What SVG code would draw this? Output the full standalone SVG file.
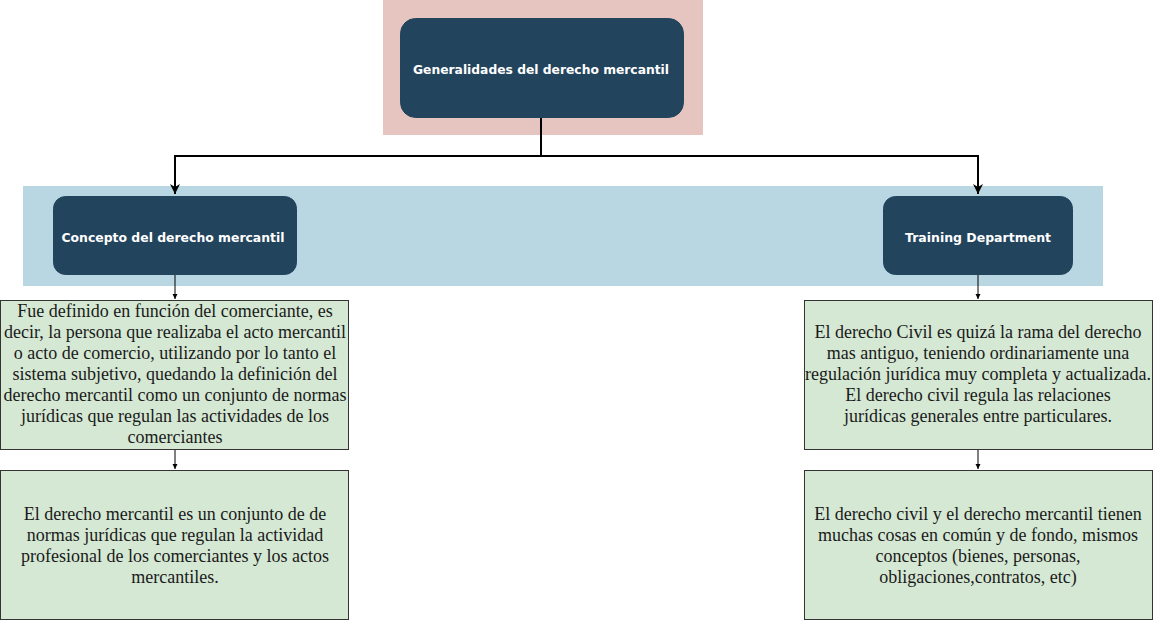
<svg xmlns="http://www.w3.org/2000/svg" width="1153" height="621" viewBox="0 0 1153 621">
<style>
.bg-pink{fill:#e6c5c1}
.bg-blue{fill:#b9d6e3}
.node rect.h{fill:#23445d;stroke:#23445d}
.ht{font-family:"DejaVu Sans",sans-serif;font-weight:bold;font-size:12px;fill:#ffffff;text-anchor:middle}
.box{fill:#d5e8d4;stroke:#333333;stroke-width:1}
.bt{font-family:"Liberation Serif","Times New Roman",serif;font-size:18px;fill:#1a1a1a;text-anchor:middle}
.thick{fill:none;stroke:#000;stroke-width:2}
.thin{fill:none;stroke:#000;stroke-width:1}
</style>
<defs>
<marker id="ab" viewBox="0 0 10 10" refX="10" refY="5" markerWidth="5" markerHeight="6" markerUnits="userSpaceOnUse" orient="auto"><path d="M0,0 L10,5 L0,10 Z" fill="#000"/></marker>
<marker id="abig" viewBox="0 0 10 10" refX="10" refY="5" markerWidth="14" markerHeight="10" markerUnits="userSpaceOnUse" orient="auto"><path d="M0,0 L10,5 L0,10 L3,5 Z" fill="#000"/></marker>
</defs>
<rect class="bg-pink" x="383" y="0" width="320" height="135"/>
<rect class="bg-blue" x="23" y="186" width="1080" height="100"/>
<g id="connectors">
<path class="thick" d="M541,118 V156 H175 V194" marker-end="url(#abig)"/>
<path class="thick" d="M541,156 H978 V194" marker-end="url(#abig)"/>
<path class="thin" d="M175,275 V299" marker-end="url(#ab)"/>
<path class="thin" d="M175,450 V469" marker-end="url(#ab)"/>
<path class="thin" d="M978,275 V299" marker-end="url(#ab)"/>
<path class="thin" d="M978,450 V469" marker-end="url(#ab)"/>
</g>
<g id="n-general" class="node">
<rect class="h" x="400.5" y="18.5" width="283" height="99" rx="15"/>
<text class="ht" x="541" y="74" textLength="256" lengthAdjust="spacingAndGlyphs">Generalidades del derecho mercantil</text>
</g>
<g id="n-concepto" class="node">
<rect class="h" x="53.5" y="196.5" width="243" height="78" rx="12"/>
<text class="ht" x="173" y="242" textLength="223" lengthAdjust="spacingAndGlyphs">Concepto del derecho mercantil</text>
</g>
<g id="n-training" class="node">
<rect class="h" x="883.5" y="196.5" width="189" height="78" rx="12"/>
<text class="ht" x="978" y="242" textLength="146" lengthAdjust="spacingAndGlyphs">Training Department</text>
</g>
<g id="n-fue">
<rect class="box" x="0.5" y="300.5" width="348" height="149"/>
<text class="bt"><tspan x="175" y="317">Fue definido en función del comerciante, es</tspan><tspan x="175" y="338">decir, la persona que realizaba el acto mercantil</tspan><tspan x="175" y="359">o acto de comercio, utilizando por lo tanto el</tspan><tspan x="175" y="380">sistema subjetivo, quedando la definición del</tspan><tspan x="175" y="401">derecho mercantil como un conjunto de normas</tspan><tspan x="175" y="422">jurídicas que regulan las actividades de los</tspan><tspan x="175" y="443">comerciantes</tspan></text>
</g>
<g id="n-conjunto">
<rect class="box" x="0.5" y="470.5" width="348" height="149"/>
<text class="bt"><tspan x="175" y="520">El derecho mercantil es un conjunto de de</tspan><tspan x="175" y="541">normas jurídicas que regulan la actividad</tspan><tspan x="175" y="562">profesional de los comerciantes y los actos</tspan><tspan x="175" y="583">mercantiles.</tspan></text>
</g>
<g id="n-civil">
<rect class="box" x="804.5" y="300.5" width="348" height="149"/>
<text class="bt"><tspan x="978" y="338">El derecho Civil es quizá la rama del derecho</tspan><tspan x="978" y="359">mas antiguo, teniendo ordinariamente una</tspan><tspan x="978" y="380">regulación jurídica muy completa y actualizada.</tspan><tspan x="978" y="401">El derecho civil regula las relaciones</tspan><tspan x="978" y="422">jurídicas generales entre particulares.</tspan></text>
</g>
<g id="n-comun">
<rect class="box" x="804.5" y="470.5" width="348" height="149"/>
<text class="bt"><tspan x="978" y="520">El derecho civil y el derecho mercantil tienen</tspan><tspan x="978" y="541">muchas cosas en común y de fondo, mismos</tspan><tspan x="978" y="562">conceptos (bienes, personas,</tspan><tspan x="978" y="583">obligaciones,contratos, etc)</tspan></text>
</g>
</svg>
